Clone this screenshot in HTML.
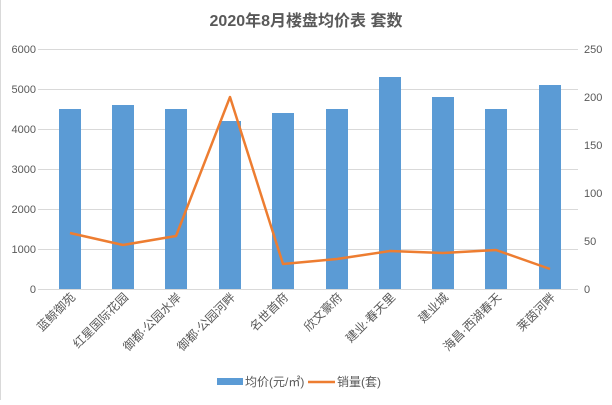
<!DOCTYPE html>
<html><head><meta charset="utf-8"><style>
body{margin:0;background:#fff;}
text{font-family:"Liberation Sans","Noto Sans CJK SC",sans-serif;}
</style></head><body>
<svg width="612" height="400" viewBox="0 0 612 400" xmlns="http://www.w3.org/2000/svg">
<rect x="0" y="0" width="612" height="400" fill="#fff"/>
<line x1="0.5" y1="0" x2="0.5" y2="400" stroke="#d9d9d9"/>
<text x="306" y="26" text-anchor="middle" font-size="16" font-weight="bold" fill="#595959">2020年8月楼盘均价表 套数</text>
<g stroke="#d9d9d9" stroke-width="1">
<line x1="38" y1="49.5" x2="578" y2="49.5"/>
<line x1="38" y1="89.5" x2="578" y2="89.5"/>
<line x1="38" y1="129.5" x2="578" y2="129.5"/>
<line x1="38" y1="169.5" x2="578" y2="169.5"/>
<line x1="38" y1="209.5" x2="578" y2="209.5"/>
<line x1="38" y1="249.5" x2="578" y2="249.5"/>
<line x1="38" y1="289.5" x2="578" y2="289.5"/>
</g>
<g font-size="11" fill="#595959" text-anchor="end">
<text x="36" y="53">6000</text><text x="36" y="93">5000</text><text x="36" y="133">4000</text><text x="36" y="173">3000</text><text x="36" y="213">2000</text><text x="36" y="253">1000</text><text x="36" y="293">0</text>
</g>
<g font-size="11" fill="#595959" text-anchor="start">
<text x="584" y="53">250</text><text x="584" y="101">200</text><text x="584" y="149">150</text><text x="584" y="197">100</text><text x="584" y="245">50</text><text x="584" y="293">0</text>
</g>
<g fill="#5b9bd5">
<rect x="59" y="109" width="22" height="180"/>
<rect x="112" y="105" width="22" height="184"/>
<rect x="165" y="109" width="22" height="180"/>
<rect x="219" y="121" width="22" height="168"/>
<rect x="272" y="113" width="22" height="176"/>
<rect x="326" y="109" width="22" height="180"/>
<rect x="379" y="77" width="22" height="212"/>
<rect x="432" y="97" width="22" height="192"/>
<rect x="485" y="109" width="22" height="180"/>
<rect x="539" y="85" width="22" height="204"/>
</g>
<polyline fill="none" stroke="#ed7d31" stroke-width="2.5" stroke-linejoin="round" points="70,233 123,245 176,236 230,97 283,264 337,259 390,251 443,253 496,250 550,269"/>
<g font-size="12" fill="#595959" text-anchor="end">
<text transform="translate(76,298) rotate(-45)">蓝鲸御苑</text>
<text transform="translate(129,298) rotate(-45)">红星国际花园</text>
<text transform="translate(182,298) rotate(-45)">御都·公园水岸</text>
<text transform="translate(236,298) rotate(-45)">御都·公园河畔</text>
<text transform="translate(289,298) rotate(-45)">名世首府</text>
<text transform="translate(343,298) rotate(-45)">欣文豪府</text>
<text transform="translate(396,298) rotate(-45)">建业·春天里</text>
<text transform="translate(449,298) rotate(-45)">建业城</text>
<text transform="translate(502,298) rotate(-45)">海昌·西湖春天</text>
<text transform="translate(556,298) rotate(-45)">莱茵河畔</text>
</g>
<rect x="217" y="378" width="26" height="7" fill="#5b9bd5"/>
<text x="245" y="386" font-size="12" fill="#595959">均价(元/㎡)</text>
<line x1="308" y1="382" x2="335" y2="382" stroke="#ed7d31" stroke-width="2.5"/>
<text x="337" y="386" font-size="12" fill="#595959">销量(套)</text>
</svg>
</body></html>
